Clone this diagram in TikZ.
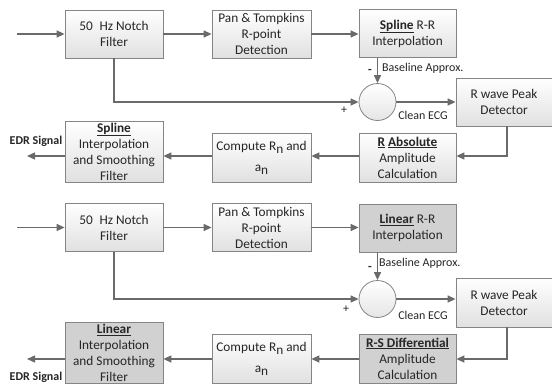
\documentclass[tikz,border=0pt]{standalone}
\usepackage{fontspec}
\setmainfont{Carlito}
\usetikzlibrary{arrows.meta,calc}
\definecolor{txt}{HTML}{262626}
\definecolor{ln}{HTML}{6A6A6A}
\definecolor{bd}{HTML}{858585}
\newcommand{\sbn}{\raisebox{-0.45ex}{n}}
\begin{document}
\begin{tikzpicture}[x=1pt,y=-1pt,
  font=\fontsize{13.3}{16}\selectfont, text=txt,
  blk/.style={draw=bd, line width=0.8pt, top color=white, bottom color=black!12,
     minimum height=48pt, align=center, inner sep=1pt},
  dark/.style={draw=bd, line width=0.8pt, fill=black!18, align=center, inner sep=1pt},
  sumc/.style={circle, draw=bd, line width=0.8pt, top color=white, bottom color=black!10, minimum size=37pt, inner sep=0pt},
  arr/.style={draw=ln, line width=1.3pt, -{Triangle[length=8pt,width=7pt]}},
  plain/.style={draw=ln, line width=1.3pt},
  lbl/.style={font=\fontsize{12}{14}\selectfont, inner sep=0pt},
  elbl/.style={font=\fontsize{12}{14}\selectfont\bfseries, inner sep=0pt}
]
\useasboundingbox (0,0) rectangle (552,388);

% ---------------- top diagram ----------------
\node[blk, minimum width=98pt] (n1) at (114,34) {50\enspace Hz Notch\\Filter};
\node[blk, minimum width=99pt] (p1) at (261.5,34) {Pan \& Tompkins\\R-point\\Detection};
\node[blk, minimum width=97pt] (s1) at (407.5,33.5) {\textbf{\underline{Spline}} R-R\\Interpolation};
\node[sumc] (c1) at (377.5,102) {};
\node[blk, minimum width=96pt] (w1) at (504,102) {R wave Peak\\Detector};
\node[blk, minimum width=97pt, minimum height=49pt] (a1) at (407.5,157.5) {\textbf{\underline{R}} \textbf{\underline{Absolute}}\\Amplitude\\Calculation};
\node[blk, minimum width=99pt, minimum height=49pt] (m1) at (261.5,157.5) {Compute R\sbn{} and\\[5pt]a\sbn};
\node[blk, minimum width=98pt, minimum height=61pt] (o1) at (114,151.5) {\textbf{\underline{Spline}}\\Interpolation\\and Smoothing\\Filter};

\coordinate (in1) at (17,34);
\coordinate (out1) at (27,156);
\coordinate (k1) at (507,156);
\draw[arr] (in1) -- (n1.west);
\draw[arr] (n1.east) -- (p1.west);
\draw[arr] (p1.east) -- (s1.west |- p1.east);
\draw[arr] (s1.south -| c1) -- (c1.north);
\draw[arr] (n1.south) |- (c1.west);
\draw[arr] (c1.east) -- (w1.west |- c1.east);
\draw[arr] (w1.south -| k1) -- (k1) -- (a1.east |- k1);
\draw[arr] (a1.west |- k1) -- (m1.east |- k1);
\draw[arr] (m1.west |- k1) -- (o1.east |- k1);
\draw[arr] (o1.west |- k1) -- (out1);

\node[lbl] at (370,71) {\textbf{-}};
\node[lbl, anchor=west] at (382,68) {Baseline Approx.};
\node[lbl] at (344,110) {+};
\node[lbl] at (423,115) {Clean ECG};
\node[elbl] at (36,141) {EDR Signal};

% ---------------- bottom diagram ----------------
\node[blk, minimum width=98pt] (n2) at (114,227.5) {50\enspace Hz Notch\\Filter};
\node[blk, minimum width=99pt] (p2) at (261.5,227.5) {Pan \& Tompkins\\R-point\\Detection};
\node[dark, minimum width=97pt, minimum height=48pt] (s2) at (407.5,228) {\textbf{\underline{Linear}} R-R\\Interpolation};
\node[sumc] (c2) at (377.5,299) {};
\node[blk, minimum width=96pt, minimum height=49pt] (w2) at (504,302.5) {R wave Peak\\Detector};
\node[dark, minimum width=97pt, minimum height=49pt] (a2) at (407.5,358.5) {\textbf{\underline{R-S Differential}}\\Amplitude\\Calculation};
\node[blk, minimum width=99pt, minimum height=49pt] (m2) at (261.5,358.5) {Compute R\sbn{} and\\[5pt]a\sbn};
\node[dark, minimum width=98pt, minimum height=61pt] (o2) at (114,353) {\textbf{\underline{Linear}}\\Interpolation\\and Smoothing\\Filter};

\coordinate (in2) at (17,227.5);
\coordinate (out2) at (27,359);
\coordinate (k2) at (507,359);
\draw[arr] (in2) -- (n2.west);
\draw[arr] (n2.east) -- (p2.west);
\draw[arr] (p2.east) -- (s2.west |- p2.east);
\draw[arr] (s2.south -| c2) -- (c2.north);
\draw[arr] (n2.south) |- (c2.west);
\draw[arr] (c2.east) -- (w2.west |- c2.east);
\draw[arr] (w2.south -| k2) -- (k2) -- (a2.east |- k2);
\draw[arr] (a2.west |- k2) -- (m2.east |- k2);
\draw[arr] (m2.west |- k2) -- (o2.east |- k2);
\draw[arr] (o2.west |- k2) -- (out2);

\node[lbl] at (370,268) {\textbf{-}};
\node[lbl, anchor=west] at (379,263) {Baseline Approx.};
\node[lbl] at (346,309) {+};
\node[lbl] at (423,315) {Clean ECG};
\node[elbl] at (36,377) {EDR Signal};
\end{tikzpicture}
\end{document}
